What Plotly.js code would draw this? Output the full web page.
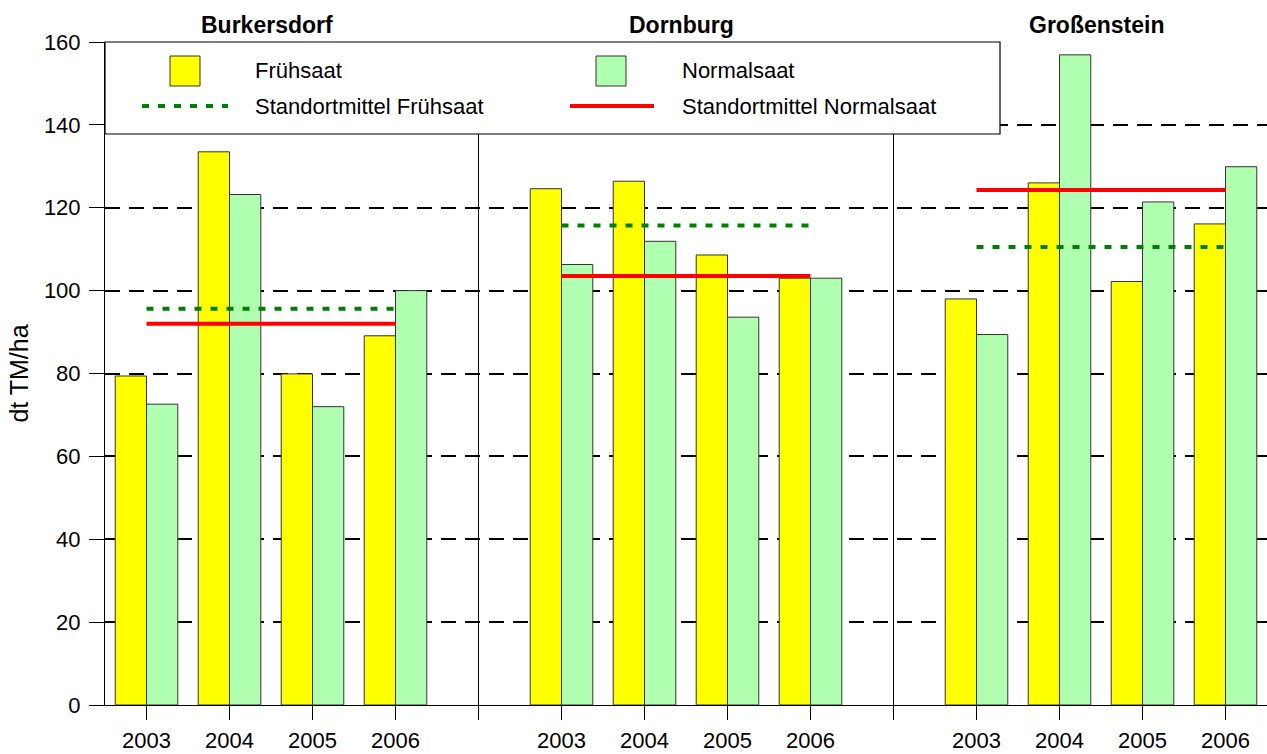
<!DOCTYPE html>
<html>
<head>
<meta charset="utf-8">
<script src="https://cdn.plot.ly/plotly-3.0.1.min.js"></script>
<style>
  body { margin: 0; background: #fff; }
  #chart { width: 1267px; height: 754px; }
</style>
</head>
<body>
<div id="chart"></div>
<script>
// data
var sites = ["Burkersdorf", "Dornburg", "Großenstein"];
var years = ["2003", "2004", "2005", "2006"];
// one value per site and year, in site order
var fruehsaat = [79.4, 133.5, 79.9, 89.1, 124.6, 126.4, 108.6, 103.0, 98.0, 126.0, 102.2, 116.1];
var normalsaat = [72.6, 123.2, 72.0, 100.0, 106.3, 111.9, 93.6, 103.0, 89.4, 156.9, 121.4, 129.9];
var mittelFrueh = [95.6, 115.7, 110.5];
var mittelNormal = [92.0, 103.5, 124.3];

var FONT = "Liberation Sans, Arial, sans-serif";

// x positions: 4 years per site, one empty slot between sites
var xpos = [],
  tickvals = [],
  ticktext = [],
  sepX = [],
  siteCenter = [];
for (let g = 0; g < sites.length; g++) {
  for (let j = 0; j < years.length; j++) {
    var p = 1 + g * (years.length + 1) + j;
    xpos.push(p);
    tickvals.push(p);
    ticktext.push(years[j]);
  }
  siteCenter.push(1 + g * (years.length + 1) + (years.length - 1) / 2);
  if (g < sites.length - 1) {
    var s = 1 + g * (years.length + 1) + years.length;
    sepX.push(s);
    tickvals.push(s);
    ticktext.push("");
  }
}

// mean lines span from first to last year of each site
function meanLine(means) {
  var x = [],
    y = [];
  for (let g = 0; g < means.length; g++) {
    x.push(xpos[g * years.length], xpos[g * years.length + years.length - 1], null);
    y.push(means[g], means[g], null);
  }
  return [x, y];
}
var mf = meanLine(mittelFrueh);
var mn = meanLine(mittelNormal);

// pixel -> paper helpers for the hand-made legend box
var L = 105, T = 42, W = 1162, H = 663;
function px(x) { return (x - L) / W; }
function py(y) { return 1 - (y - T) / H; }

var shapes = [];
for (let i = 0; i < sepX.length; i++) {
  shapes.push({
    type: "line", layer: "between",
    xref: "x", yref: "paper",
    x0: sepX[i], x1: sepX[i], y0: 0, y1: 1,
    line: { color: "#000", width: 1 },
  });
}
shapes.push(
  {
    type: "rect", layer: "above", xref: "paper", yref: "paper",
    x0: px(105), x1: px(1000), y0: py(134), y1: py(42),
    fillcolor: "#fff", line: { color: "#000", width: 1.2 },
  },
  {
    type: "rect", layer: "above", xref: "paper", yref: "paper",
    x0: px(170), x1: px(200), y0: py(86), y1: py(56),
    fillcolor: "#FFFF00", line: { color: "#333", width: 1 },
  },
  {
    type: "rect", layer: "above", xref: "paper", yref: "paper",
    x0: px(596), x1: px(626), y0: py(86), y1: py(56),
    fillcolor: "#B0FFB0", line: { color: "#333", width: 1 },
  },
  {
    type: "line", layer: "above", xref: "paper", yref: "paper",
    x0: px(142), x1: px(228), y0: py(106), y1: py(106),
    line: { color: "#008000", width: 4, dash: "7px,9px" },
  },
  {
    type: "line", layer: "above", xref: "paper", yref: "paper",
    x0: px(570), x1: px(654), y0: py(106), y1: py(106),
    line: { color: "#FF0000", width: 4 },
  }
);

var legendFont = { family: FONT, size: 22, color: "#000" };
var annotations = [
  { text: "Frühsaat", x: px(253), y: py(71) },
  { text: "Standortmittel Frühsaat", x: px(253), y: py(107) },
  { text: "Normalsaat", x: px(680), y: py(71) },
  { text: "Standortmittel Normalsaat", x: px(680), y: py(107) },
].map(function (a) {
  return {
    text: a.text, x: a.x, y: a.y, xref: "paper", yref: "paper",
    xanchor: "left", yanchor: "middle", showarrow: false, font: legendFont,
  };
});
for (let g = 0; g < sites.length; g++) {
  annotations.push({
    text: "<b>" + sites[g] + "</b>",
    x: siteCenter[g] - 0.05, xref: "x",
    y: py(25), yref: "paper", yanchor: "middle",
    showarrow: false,
    font: { family: FONT, size: 23, color: "#000" },
  });
}

Plotly.newPlot(
  "chart",
  [
    {
      type: "bar", name: "Frühsaat",
      x: xpos, y: fruehsaat,
      width: 0.377, offset: -0.377,
      marker: { color: "#FFFF00", line: { color: "#333", width: 1 } },
    },
    {
      type: "bar", name: "Normalsaat",
      x: xpos, y: normalsaat,
      width: 0.377, offset: 0,
      marker: { color: "#B0FFB0", line: { color: "#333", width: 1 } },
    },
    {
      type: "scatter", mode: "lines", name: "Standortmittel Frühsaat",
      x: mf[0], y: mf[1],
      line: { color: "#008000", width: 4, dash: "7px,9px" },
    },
    {
      type: "scatter", mode: "lines", name: "Standortmittel Normalsaat",
      x: mn[0], y: mn[1],
      line: { color: "#FF0000", width: 4 },
    },
  ],
  {
    width: 1267,
    height: 754,
    margin: { l: L, r: 0, t: T, b: 754 - T - H },
    paper_bgcolor: "#fff",
    plot_bgcolor: "#fff",
    barmode: "overlay",
    showlegend: false,
    font: { family: FONT, size: 22, color: "#000" },
    xaxis: {
      range: [0.5, 14.5],
      tickmode: "array", tickvals: tickvals, ticktext: ticktext,
      ticks: "outside", ticklen: 14, tickcolor: "#000", tickwidth: 1,
      ticklabelstandoff: 2,
      showgrid: false, zeroline: false,
      showline: true, linecolor: "#000", linewidth: 1,
      tickfont: { family: FONT, size: 22 },
      fixedrange: true,
    },
    yaxis: {
      range: [0, 160], dtick: 20,
      ticks: "outside", ticklen: 15, tickcolor: "#000", tickwidth: 1,
      ticklabelstandoff: 4,
      showgrid: true, gridcolor: "#000", gridwidth: 2, griddash: "15px,9px",
      zeroline: false,
      showline: true, linecolor: "#000", linewidth: 1,
      tickfont: { family: FONT, size: 22 },
      title: { text: "dt TM/ha", font: { family: FONT, size: 25 }, standoff: 8 },
      fixedrange: true,
    },
    shapes: shapes,
    annotations: annotations,
  },
  { displayModeBar: false, staticPlot: true }
);
</script>
</body>
</html>
